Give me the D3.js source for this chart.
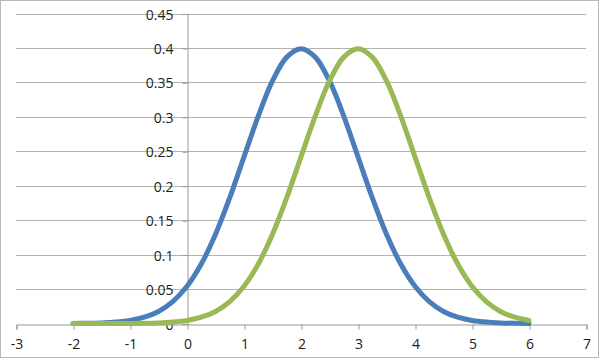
<!DOCTYPE html>
<html><head><meta charset="utf-8">
<script src="https://cdn.jsdelivr.net/npm/d3@7"></script>
<style>html,body{margin:0;padding:0;background:#fff}svg{display:block}</style>
</head><body><svg id="chart" width="600" height="359"></svg>
<script>
const xValues = [-2,-1.75,-1.5,-1.25,-1,-0.75,-0.5,-0.25,0,0.25,0.5,0.75,1,1.25,1.5,1.75,2,2.25,2.5,2.75,3,3.25,3.5,3.75,4,4.25,4.5,4.75,5,5.25,5.5,5.75,6];
const blueValues = [0.000134,0.000353,0.000873,0.002029,0.004432,0.009094,0.017528,0.031740,0.053991,0.086277,0.129518,0.182649,0.241971,0.301137,0.352065,0.386668,0.398942,0.386668,0.352065,0.301137,0.241971,0.182649,0.129518,0.086277,0.053991,0.031740,0.017528,0.009094,0.004432,0.002029,0.000873,0.000353,0.000134];
const greenValues = [0.0000015,0.0000051,0.000016,0.000047,0.000134,0.000353,0.000873,0.002029,0.004432,0.009094,0.017528,0.031740,0.053991,0.086277,0.129518,0.182649,0.241971,0.301137,0.352065,0.386668,0.398942,0.386668,0.352065,0.301137,0.241971,0.182649,0.129518,0.086277,0.053991,0.031740,0.017528,0.009094,0.004432];
const xTicks = [-3,-2,-1,0,1,2,3,4,5,6,7];
const yTicks = [0,0.05,0.1,0.15,0.2,0.25,0.3,0.35,0.4,0.45];
const seriesColors = ["#4a7ebb","#98b954"];

const svg = d3.select("#chart");
const x = d3.scaleLinear().domain([-3,7]).range([16,586]);
const y = d3.scaleLinear().domain([0,0.45]).range([323.5,13.5]);
const font = "'Open Sans', sans-serif";

svg.append("rect").attr("x",0.5).attr("y",0.5).attr("width",598).attr("height",357)
  .attr("fill","#fff").attr("stroke","#b8b8b8");

// gridlines
svg.append("g").selectAll("line").data(yTicks.filter(d=>d>0)).join("line")
  .attr("x1",x(-3)).attr("x2",x(7))
  .attr("y1",d=>Math.round(y(d))+0.5).attr("y2",d=>Math.round(y(d))+0.5)
  .attr("stroke","#b3b3b3").attr("stroke-width",1);

// y axis at x=0
const yAxis = d3.axisLeft(y).tickValues(yTicks).tickSize(5).tickFormat(d3.format("~g"));
const ya = svg.append("g").attr("transform",`translate(${Math.round(x(0))+0.5},0.5)`).call(yAxis);
ya.select(".domain").attr("stroke","#999");
ya.selectAll(".tick line").attr("stroke","#999");
ya.selectAll("text").attr("x",-14).attr("dy","0.36em").attr("fill","#222")
  .style("font-family",font).style("font-size","14px");

// x axis at y=0
const xAxis = d3.axisBottom(x).tickValues(xTicks).tickSize(5).tickFormat(d3.format("d"));
const xa = svg.append("g").attr("transform",`translate(0.5,${Math.round(y(0))+0.5})`).call(xAxis);
xa.select(".domain").attr("stroke","#999");
xa.selectAll(".tick line").attr("stroke","#999");
xa.selectAll("text").attr("y",15).attr("fill","#222")
  .style("font-family",font).style("font-size","14px");
// remove the 0 label overlapping? keep y label 0 near origin
xa.selectAll("text").text(d=>d3.format("d")(d).replace("\u2212","-"));
ya.selectAll("text").text(d=>d3.format("~g")(d));

const line = d3.line().x((d,i)=>x(xValues[i])).y(d=>y(d)).curve(d3.curveCatmullRom);
[blueValues, greenValues].forEach((vals,k)=>{
  svg.append("path").datum(vals).attr("d",line).attr("fill","none")
    .attr("stroke",seriesColors[k]).attr("stroke-width",5).attr("stroke-linecap","round").attr("stroke-linejoin","round");
});
</script></body></html>
